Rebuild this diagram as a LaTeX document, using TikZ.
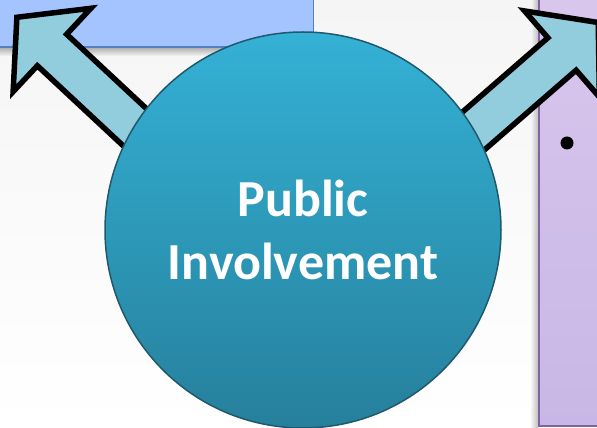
\documentclass[tikz,border=0pt]{standalone}
\usepackage{fontspec}
\setmainfont{Carlito}
\definecolor{bgtop}{RGB}{245,245,245}
\definecolor{bluefill}{RGB}{164,196,255}
\definecolor{blueline}{RGB}{84,128,192}
\definecolor{lilactop}{RGB}{217,199,237}
\definecolor{lilacbot}{RGB}{200,182,230}
\definecolor{lilacline}{RGB}{128,100,162}
\definecolor{arrowfill}{RGB}{146,205,221}
\definecolor{hubtop}{RGB}{52,177,213}
\definecolor{hubbot}{RGB}{38,128,156}
\definecolor{hubline}{RGB}{33,89,108}

\begin{document}
\begin{tikzpicture}[x=1pt,y=1pt,
    blockarrow/.style={draw=black,line width=5.5pt,line join=miter,fill=arrowfill},
    box/.style={draw,line width=1.5pt,inner sep=0pt},
    hubstyle/.style={circle,draw=hubline,line width=1.5pt,inner sep=0pt,
      minimum size=396pt,top color=hubtop,bottom color=hubbot,
      text=white,align=center,font=\bfseries\fontsize{52}{63}\selectfont}]
  \useasboundingbox (0,0) rectangle (597,428);
  \clip (0,0) rectangle (597,428);
  \shade[top color=bgtop,bottom color=white] (0,0) rectangle (597,428);
  % soft shadows of the boxes
  \shade[top color=black!30,bottom color=bgtop] (-5,380) rectangle (316,372);
  \shade[left color=bgtop,right color=black!25] (531,0) rectangle (538,428);
  % boxes behind the arrows
  \node[box,draw=blueline,fill=bluefill,anchor=south east,
    minimum width=330pt,minimum height=60pt] (plan) at (314,380) {};
  \node[box,draw=lilacline,top color=lilactop,bottom color=lilacbot,
    anchor=south west,minimum width=70pt,minimum height=440pt] (notes) at (538,1) {};
  \node[fill=black,circle,inner sep=0pt,minimum size=13pt] (dot) at (567,285) {};
  % block arrows
  \begin{scope}[shift={(52,378)},rotate=137]
    \draw[blockarrow] (-160,-21.5) -- (0,-21.5) -- (0,-57) -- (48,0)
      -- (0,57) -- (0,21.5) -- (-160,21.5) -- cycle ;
  \end{scope}
  \begin{scope}[shift={(562,374)},rotate=41]
    \draw[blockarrow] (-160,-21.5) -- (0,-21.5) -- (0,-57) -- (48,0)
      -- (0,57) -- (0,21.5) -- (-160,21.5) -- cycle ;
  \end{scope}
  % centre circle
  \node[hubstyle] (hub) at (303,198) {Public\\Involvement} ;
\end{tikzpicture}
\end{document}
